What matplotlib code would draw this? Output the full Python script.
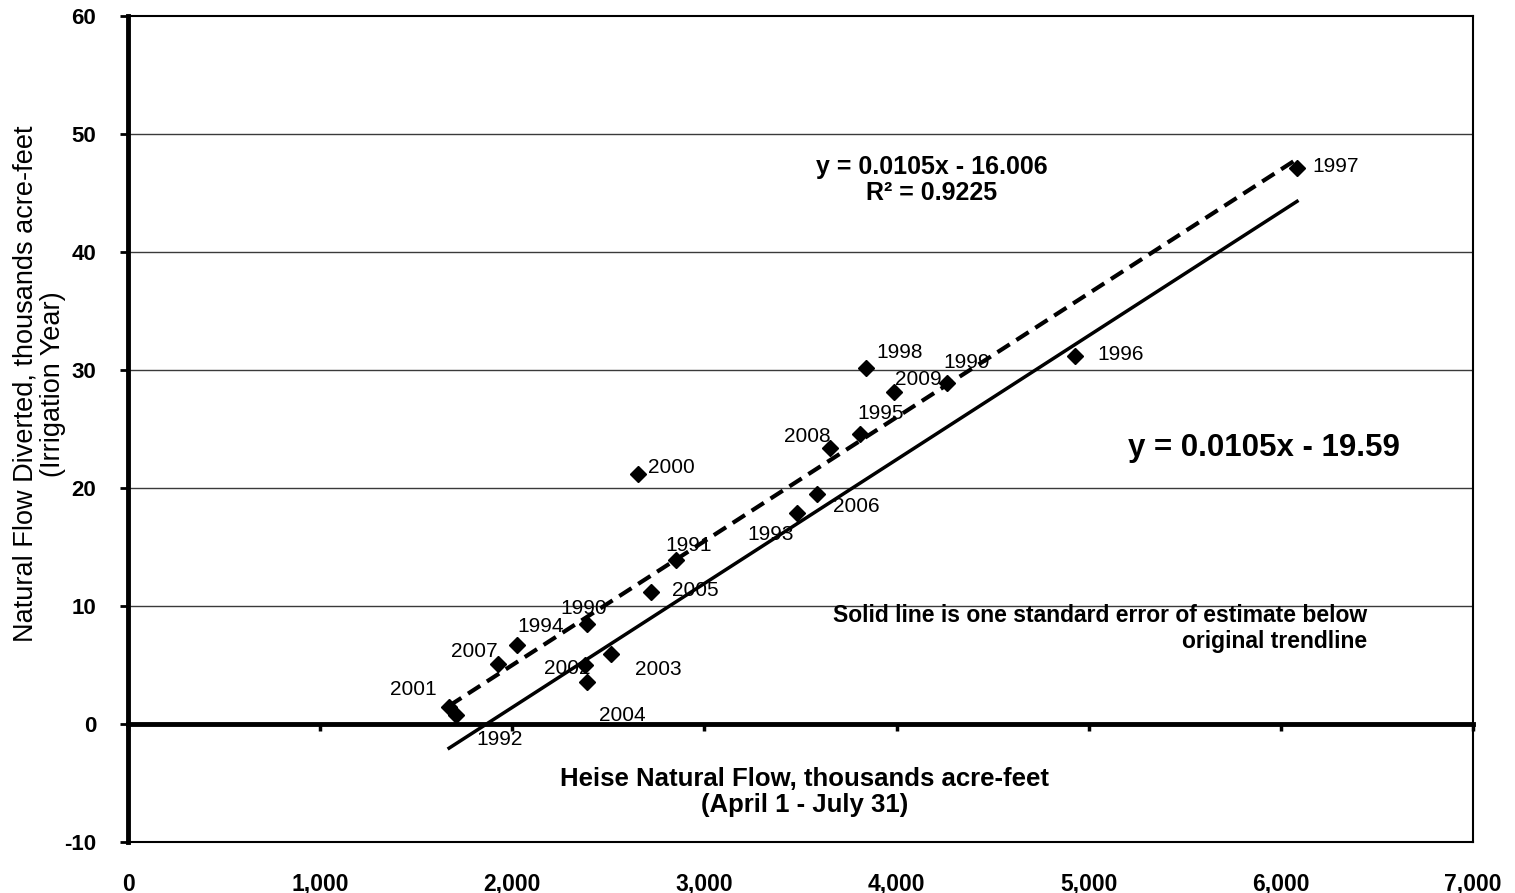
import matplotlib
matplotlib.use("Agg")
import matplotlib.pyplot as plt
import numpy as np
from matplotlib.ticker import FuncFormatter, MultipleLocator

plt.rcParams['font.family'] = ['Liberation Sans', 'DejaVu Sans']
plt.rcParams['axes.unicode_minus'] = False

# Heise natural flow (Apr 1 - Jul 31) vs. natural flow diverted, by year
years = ["2001", "1992", "2007", "1994", "1990", "2002", "2003", "2004", "2005",
         "1991", "2000", "1993", "2006", "2008", "1995", "1998", "2009", "1999",
         "1996", "1997"]
heise_flow = [1671, 1707, 1926, 2024, 2389, 2379, 2514, 2389, 2722,
              2852, 2654, 3482, 3586, 3654, 3810, 3841, 3987, 4262,
              4929, 6084]
diverted = [1.4, 0.8, 5.1, 6.7, 8.5, 5.0, 5.9, 3.6, 11.2,
            13.9, 21.2, 17.9, 19.5, 23.4, 24.6, 30.2, 28.1, 28.9,
            31.2, 47.1]

# trendline (dashed) and one standard error below it (solid)
slope = 0.0105
trend_intercept = -16.006
lower_intercept = -19.59
r_squared = 0.9225

x_ticks = [0, 1000, 2000, 3000, 4000, 5000, 6000, 7000]
y_ticks = [-10, 0, 10, 20, 30, 40, 50, 60]

# label offsets in pixels (dx right, dy up) for each year annotation
label_offsets_px = [(-36, 18), (44, -25), (-24, 12), (24, 18), (-3, 15),
                    (-18, -3), (47, -15), (35, -34), (44, 1), (13, 14),
                    (33, 6), (-26, -22), (39, -13), (-23, 11), (21, 20),
                    (34, 15), (24, 13), (20, 20), (46, 1), (39, 2)]

fig = plt.figure(figsize=(15.15, 8.93), dpi=100)
ax = fig.add_axes([0.0845, 0.0571, 0.8878, 0.925])

ax.set_xlim(x_ticks[0], x_ticks[-1])
ax.set_ylim(y_ticks[0], y_ticks[-1])

# horizontal gridlines
for yv in y_ticks[2:-1]:
    ax.axhline(yv, color='#3a3a3a', lw=1.0, zorder=1)

# trend lines over the observed flow range
xr = np.array([min(heise_flow), max(heise_flow)])
ax.plot(xr, slope * xr + trend_intercept, color='black', lw=3.0,
        dashes=(3.5, 1.9), zorder=3)
ax.plot(xr, slope * xr + lower_intercept, color='black', lw=2.5, zorder=3)

ax.plot(heise_flow, diverted, linestyle='none', marker='D', markersize=8,
        color='black', zorder=4)

for yr, xv, yv, (dx, dy) in zip(years, heise_flow, diverted, label_offsets_px):
    ax.annotate(yr, (xv, yv), xytext=(dx * 0.72, dy * 0.72),
                textcoords='offset points', ha='center', va='center',
                fontsize=15, color='black', zorder=5)

# spines: heavy left axis, light frame elsewhere
for side in ['top', 'right', 'bottom']:
    ax.spines[side].set_linewidth(1.5)
ax.spines['left'].set_linewidth(3.5)

ax.xaxis.set_major_locator(MultipleLocator(1000))
ax.yaxis.set_major_locator(MultipleLocator(10))
ax.xaxis.set_major_formatter(FuncFormatter(lambda v, p: f"{int(v):,}"))
ax.tick_params(axis='x', length=0, pad=22, labelsize=16.5)
ax.tick_params(axis='y', length=6, width=2, direction='out', pad=17,
               labelsize=16)
for lbl in ax.get_xticklabels() + ax.get_yticklabels():
    lbl.set_fontweight('bold')

# horizontal axis line drawn at zero with its own tick marks
zero_frac = (0 - y_ticks[0]) / (y_ticks[-1] - y_ticks[0])
sec = ax.secondary_xaxis(zero_frac)
sec.spines['bottom'].set_linewidth(3.5)
sec.xaxis.set_major_locator(MultipleLocator(1000))
sec.tick_params(axis='x', length=5, width=2.5, direction='out',
                labelbottom=False)

bold = dict(fontweight='bold', color='black')
ax.text(4184, 46.1, "y = 0.0105x - 16.006\nR\u00b2 = 0.9225", ha='center',
        va='center', fontsize=18, linespacing=1.1, **bold)
ax.text(5205, 23.4, "y = 0.0105x - 19.59", ha='left', va='center',
        fontsize=22.5, **bold)
ax.text(6448, 8.1, "Solid line is one standard error of estimate below\n"
        "original trendline", ha='right', va='center', fontsize=16.5,
        multialignment='right', linespacing=1.15, **bold)
ax.text(0.503, 0.0605, "Heise Natural Flow, thousands acre-feet\n(April 1 - July 31)",
        transform=ax.transAxes, ha='center', va='center', fontsize=18.5,
        linespacing=1.1, **bold)

# vertical axis title, two lines
fig.text(26 / 1515, 0.57, "Natural Flow Diverted, thousands acre-feet",
         rotation=90, ha='center', va='center', fontsize=19.5, color='black')
fig.text(53 / 1515, 0.57, "(Irrigation Year)",
         rotation=90, ha='center', va='center', fontsize=19.5, color='black')

fig.savefig("out.png", dpi=100, facecolor='white')
